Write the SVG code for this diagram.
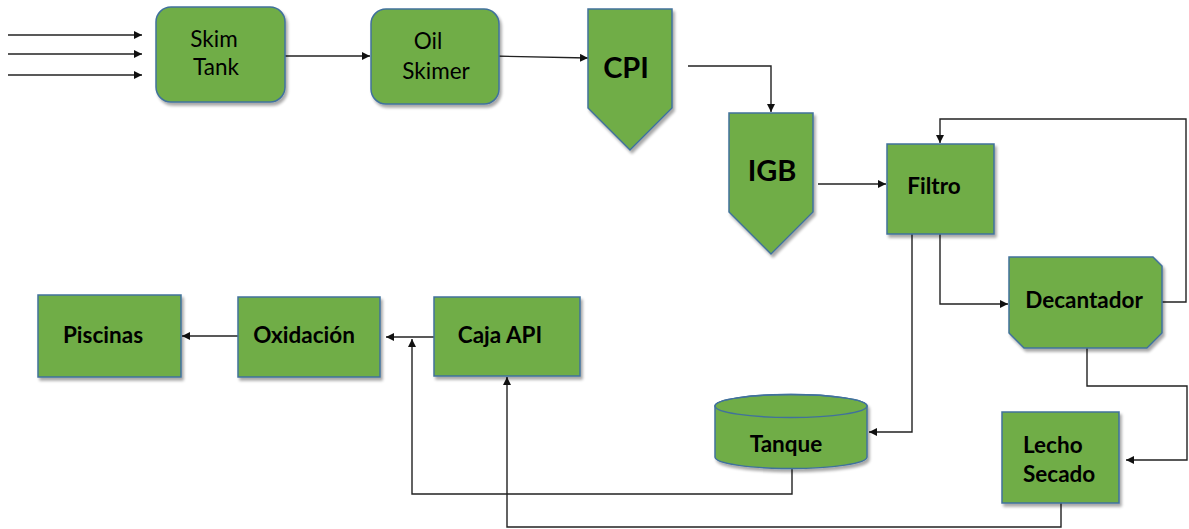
<svg xmlns="http://www.w3.org/2000/svg" width="1189" height="529" viewBox="0 0 1189 529">
  <defs>
    <marker id="arrow" viewBox="0 0 10 10" refX="10" refY="5" markerWidth="8" markerHeight="8" markerUnits="userSpaceOnUse" orient="auto">
      <path d="M0,0 L10,5 L0,10 Z" fill="#111"/>
    </marker>
    <filter id="shadow" x="-10%" y="-10%" width="125%" height="125%">
      <feGaussianBlur in="SourceAlpha" stdDeviation="1.5"/>
      <feOffset dx="2" dy="2.5" result="b"/>
      <feComponentTransfer><feFuncA type="linear" slope="0.35"/></feComponentTransfer>
      <feMerge><feMergeNode/><feMergeNode in="SourceGraphic"/></feMerge>
    </filter>
  </defs>
  <style>
    .box { fill: #70ad47; stroke: #41719c; stroke-width: 1.5; filter: url(#shadow); }
    .line { fill: none; stroke: #222; stroke-width: 1.4; }
    .arr { marker-end: url(#arrow); }
    .t { font-family: Lato, "Open Sans", "Liberation Sans", sans-serif; fill: #000; }
    .reg { font-size: 22.5px; font-weight: 400; }
    .bold { font-size: 22.5px; font-weight: 700; }
    .big { font-size: 29px; font-weight: 700; }
  </style>

  <rect width="1189" height="529" fill="#fff"/>

  <!-- connectors -->
  <g id="connectors">
    <path class="line arr" d="M8,35 H142"/>
    <path class="line arr" d="M8,54 H142"/>
    <path class="line arr" d="M8,75 H142"/>
    <path class="line arr" d="M280,56 H370"/>
    <path class="line arr" d="M492,56 L588,58"/>
    <path class="line arr" d="M688,66 H771 V112"/>
    <path class="line arr" d="M818,184 H886"/>
    <path class="line arr" d="M1162,302 H1186 V119 H940 V143"/>
    <path class="line arr" d="M940,234 V304 H1008"/>
    <path class="line arr" d="M912,234 V432 H869"/>
    <path class="line arr" d="M1087,348 V386 H1187 V460 H1126"/>
    <path class="line arr" d="M434,337 H386"/>
    <path class="line arr" d="M238,336 H182"/>
    <path class="line arr" d="M792,469 V494 H412 V339"/>
    <path class="line arr" d="M1061,503 V527 H507 V377"/>
  </g>

  <g id="skim-tank">
    <rect class="box" x="156" y="7" width="129" height="95" rx="15"/>
    <text class="t reg" x="214" y="47" text-anchor="middle">Skim</text>
    <text class="t reg" x="216" y="75" text-anchor="middle">Tank</text>
  </g>

  <g id="oil-skimer">
    <rect class="box" x="371" y="9" width="128" height="95" rx="15"/>
    <text class="t reg" x="428" y="49" text-anchor="middle">Oil</text>
    <text class="t reg" x="436" y="79" text-anchor="middle">Skimer</text>
  </g>

  <g id="cpi">
    <path class="box" d="M588,9 H672 V108 L630,150 L588,108 Z"/>
    <text class="t big" x="626" y="78" text-anchor="middle">CPI</text>
  </g>

  <g id="igb">
    <path class="box" d="M729,113 H813 V212 L771,254 L729,212 Z"/>
    <text class="t big" x="772" y="181" text-anchor="middle">IGB</text>
  </g>

  <g id="filtro">
    <rect class="box" x="887" y="144" width="107" height="90"/>
    <text class="t bold" x="934" y="194" text-anchor="middle">Filtro</text>
  </g>

  <g id="decantador">
    <path class="box" d="M1009,257 H1153 L1162,266 V333 L1147,348 H1024 L1009,333 Z"/>
    <text class="t bold" x="1084" y="308" text-anchor="middle">Decantador</text>
  </g>

  <g id="tanque">
    <path class="box" d="M715,406 A76,11.5 0 0 1 867,406 V457 A76,11.5 0 0 1 715,457 Z"/>
    <ellipse cx="791" cy="406" rx="76" ry="11.5" fill="none" stroke="#41719c" stroke-width="1.5"/>
    <text class="t bold" x="786" y="452" text-anchor="middle">Tanque</text>
  </g>

  <g id="lecho-secado">
    <rect class="box" x="1002" y="412" width="117" height="91"/>
    <text class="t bold" x="1023" y="453">Lecho</text>
    <text class="t bold" x="1023" y="482">Secado</text>
  </g>

  <g id="caja-api">
    <rect class="box" x="434" y="297" width="146" height="79"/>
    <text class="t bold" x="500" y="343" text-anchor="middle">Caja API</text>
  </g>

  <g id="oxidacion">
    <rect class="box" x="238" y="297" width="142" height="80"/>
    <text class="t bold" x="304" y="343" text-anchor="middle">Oxidación</text>
  </g>

  <g id="piscinas">
    <rect class="box" x="38" y="295" width="143" height="82"/>
    <text class="t bold" x="103" y="343" text-anchor="middle">Piscinas</text>
  </g>
</svg>
